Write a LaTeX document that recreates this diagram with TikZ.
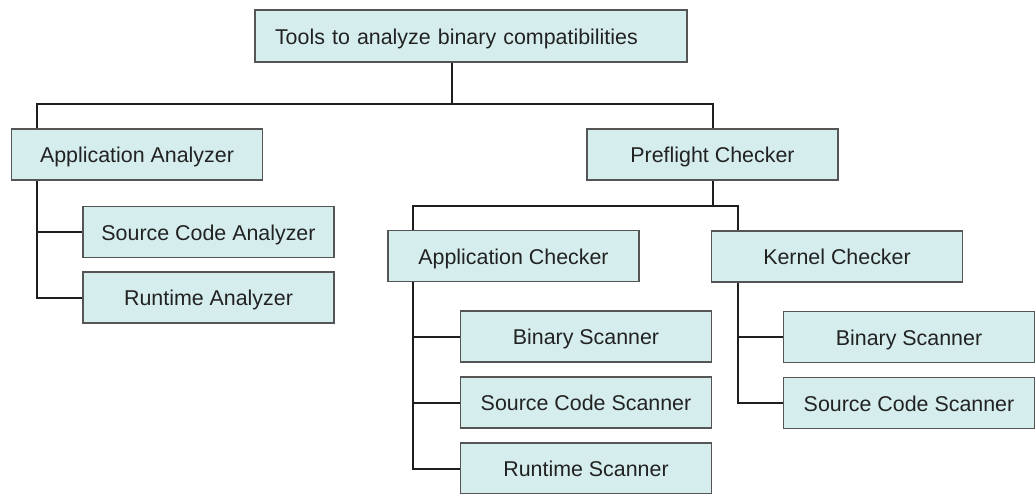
\documentclass[tikz,border=0pt]{standalone}
\usepackage{fontspec}
\setmainfont{Liberation Sans}
\definecolor{boxfill}{HTML}{D5EEED}
\definecolor{boxline}{HTML}{555555}
\definecolor{wire}{HTML}{1E1E1E}
\definecolor{ink}{HTML}{222222}
\begin{document}
\begin{tikzpicture}[x=1pt,y=-1pt,
  tool/.style={draw=boxline, fill=boxfill, line width=1.4pt, minimum width=251pt,
    minimum height=51pt, inner sep=0pt, text=ink, text height=16pt, text depth=0pt,
    font=\fontsize{21.4}{25}\selectfont},
  conn/.style={draw=wire, line width=2pt}]
\useasboundingbox (0,0) rectangle (1035,493);

% root
\node[tool, minimum width=0pt, text width=392pt, inner xsep=20pt, align=left,
  minimum height=52pt] (top) at (471,36) {Tools to analyze binary compatibilities};

% first level
\node[tool] (aa) at (137,154.5) {Application Analyzer};
\node[tool] (pc) at (712.5,154.5) {Preflight Checker};

% analyzer children
\node[tool] (sca) at (208.5,232) {Source Code Analyzer};
\node[tool] (ra) at (208.5,297.5) {Runtime Analyzer};

% checker level
\node[tool] (ac) at (513.5,256) {Application Checker};
\node[tool] (kc) at (837,256.5) {Kernel Checker};

% scanners
\node[tool] (bs1) at (586,336.5) {Binary Scanner};
\node[tool] (scs1) at (586,402.5) {Source Code Scanner};
\node[tool] (rs1) at (586,468.5) {Runtime Scanner};
\node[tool] (bs2) at (909,337) {Binary Scanner};
\node[tool] (scs2) at (909,403) {Source Code Scanner};

% bus lines and stems
\coordinate (bus1) at (0,104);
\coordinate (bus2) at (0,206);
\coordinate (topstem) at ([xshift=-19pt]top.south);
\coordinate (aastem) at ([xshift=26pt]aa.north west);
\coordinate (aadown) at ([xshift=26pt]aa.south west);
\coordinate (acstem) at ([xshift=26pt]ac.north west);
\coordinate (acdown) at ([xshift=26pt]ac.south west);
\coordinate (kcstem) at ([xshift=27pt]kc.north west);
\coordinate (kcdown) at ([xshift=27pt]kc.south west);

\draw[conn] (topstem) -- (topstem |- bus1);
\draw[conn] (aastem) |- (pc.north |- bus1) -- (pc.north);

\draw[conn] (aadown) |- (ra.west);
\draw[conn] (aadown |- sca.west) -- (sca.west);

\draw[conn] (pc.south) -- (pc.south |- bus2);
\draw[conn] (acstem) |- (kcstem |- bus2) -- (kcstem);

\draw[conn] (acdown) |- (rs1.west);
\draw[conn] (acdown |- bs1.west) -- (bs1.west);
\draw[conn] (acdown |- scs1.west) -- (scs1.west);

\draw[conn] (kcdown) |- (scs2.west);
\draw[conn] (kcdown |- bs2.west) -- (bs2.west);
\end{tikzpicture}
\end{document}
